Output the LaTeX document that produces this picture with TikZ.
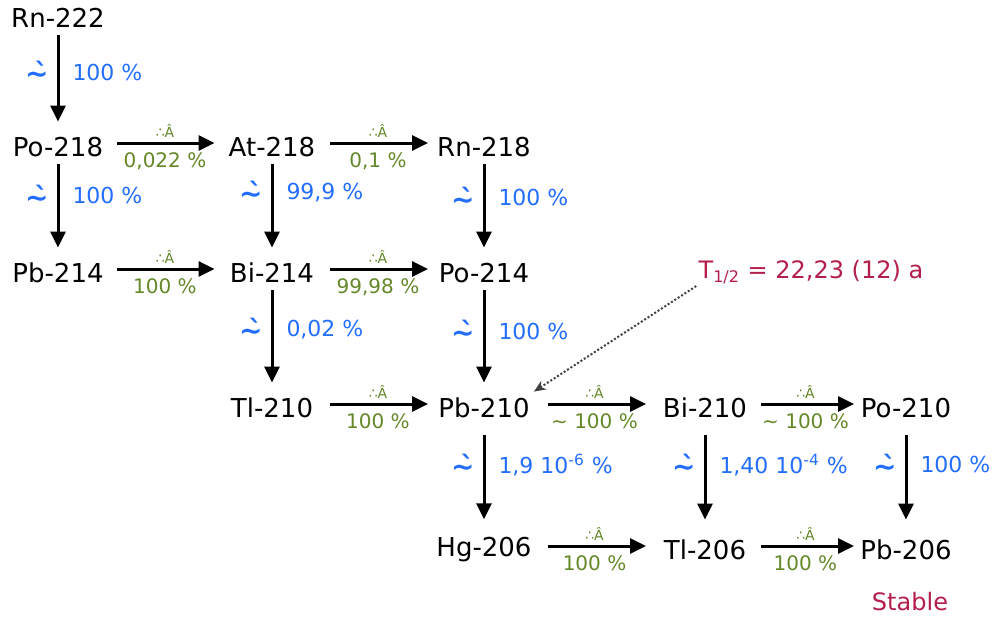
\documentclass[tikz,border=0pt]{standalone}
\usepackage{fontspec}
\setmainfont{DejaVu Sans}
\usetikzlibrary{arrows.meta}
\definecolor{nucblue}{RGB}{35,110,255}
\definecolor{nucgreen}{RGB}{100,135,40}
\definecolor{nuccrim}{RGB}{180,30,75}
\newcommand{\alsym}{\char"7E\char"300}
\newcommand{\besym}{∴Â}
\begin{document}
\begin{tikzpicture}[x=0.5pt,y=-0.5pt,
  nuc/.style={font=\fontsize{13}{15}\selectfont, inner sep=0pt, minimum width=47.5pt, minimum height=12pt},
  varr/.style={-{Triangle[length=8pt,width=7.5pt]}, line width=1.5pt, shorten <=2.5pt, shorten >=6.5pt},
  varrb/.style={varr, shorten <=7.5pt, shorten >=9pt},
  harr/.style={-{Triangle[length=8pt,width=7.5pt]}, line width=1.5pt, shorten <=5pt, shorten >=4pt},
  asym/.style={text=nucblue, font=\fontsize{14}{16}\selectfont\bfseries, inner sep=0pt, left=4pt},
  apct/.style={text=nucblue, font=\fontsize{11}{13}\selectfont, inner sep=0pt, right=6.5pt},
  bsym/.style={text=nucgreen, font=\fontsize{7}{8}\selectfont, inner sep=0pt, above=2pt},
  bpct/.style={text=nucgreen, font=\fontsize{10}{12}\selectfont, inner sep=0pt, below=4pt},
  clab/.style={text=nuccrim, font=\fontsize{12}{14}\selectfont, inner sep=1pt},
  dotarr/.style={-{Stealth[length=6pt,width=5pt]}, line width=1pt, densely dotted, black!75}
]
\useasboundingbox (0,0) rectangle (992,621);
% nuclides
\node[nuc] (rn222) at (58,18)  {Rn-222};
\node[nuc] (po218) at (58,147) {Po-218};
\node[nuc] (at218) at (272,147) {At-218};
\node[nuc] (rn218) at (484,147) {Rn-218};
\node[nuc] (pb214) at (58,273) {Pb-214};
\node[nuc] (bi214) at (272,273) {Bi-214};
\node[nuc] (po214) at (484,273) {Po-214};
\node[nuc] (tl210) at (272,408) {Tl-210};
\node[nuc] (pb210) at (484,408) {Pb-210};
\node[nuc] (bi210) at (705,408) {Bi-210};
\node[nuc] (po210) at (906,408) {Po-210};
\node[nuc] (hg206) at (484,550) {Hg-206};
\node[nuc] (tl206) at (705,550) {Tl-206};
\node[nuc] (pb206) at (906,550) {Pb-206};
\node[clab] (stable) at (910,602) {Stable};
\node[clab] (thalf) at (811,272) {T\textsubscript{1/2} = 22,23 (12) a};
% alpha decays
\draw[varr] (rn222) -- node[pos=0.4,asym]{\alsym} node[pos=0.4,apct]{100 \%} (po218);
\draw[varr] (po218) -- node[pos=0.36,asym]{\alsym} node[pos=0.36,apct]{100 \%} (pb214);
\draw[varr] (at218) -- node[pos=0.33,asym]{\alsym} node[pos=0.33,apct]{99,9 \%} (bi214);
\draw[varr] (rn218) -- node[pos=0.38,asym]{\alsym} node[pos=0.38,apct]{100 \%} (po214);
\draw[varr] (bi214) -- node[pos=0.4,asym]{\alsym} node[pos=0.4,apct]{0,02 \%} (tl210);
\draw[varr] (po214) -- node[pos=0.42,asym]{\alsym} node[pos=0.42,apct]{100 \%} (pb210);
\draw[varrb] (pb210) -- node[pos=0.38,asym]{\alsym} node[pos=0.38,apct]{1,9 10\textsuperscript{-6} \%} (hg206);
\draw[varrb] (bi210) -- node[pos=0.38,asym]{\alsym} node[pos=0.38,apct]{1,40 10\textsuperscript{-4} \%} (tl206);
\draw[varrb] (po210) -- node[pos=0.38,asym]{\alsym} node[pos=0.38,apct]{100 \%} (pb206);
% beta decays
\draw[harr, shorten <=5.75pt, shorten >=4.75pt] ([yshift=2pt]po218.east) -- node[bsym]{\besym} node[bpct]{0,022 \%} ([yshift=2pt]at218.west);
\draw[harr] ([yshift=2pt]at218.east) -- node[bsym]{\besym} node[bpct]{0,1 \%} ([yshift=2pt]rn218.west);
\draw[harr, shorten <=5.75pt, shorten >=4.75pt] ([yshift=2pt]pb214.east) -- node[bsym]{\besym} node[bpct]{100 \%} ([yshift=2pt]bi214.west);
\draw[harr] ([yshift=2pt]bi214.east) -- node[bsym]{\besym} node[bpct]{99,98 \%} ([yshift=2pt]po214.west);
\draw[harr] ([yshift=2pt]tl210.east) -- node[bsym]{\besym} node[bpct]{100 \%} ([yshift=2pt]pb210.west);
\draw[harr, shorten <=8pt, shorten >=5.5pt] ([yshift=2pt]pb210.east) -- node[bsym]{\besym} node[bpct]{\textasciitilde{} 100 \%} ([yshift=2pt]bi210.west);
\draw[harr, shorten <=4pt, shorten >=2pt] ([yshift=2pt]bi210.east) -- node[bsym]{\besym} node[bpct]{\textasciitilde{} 100 \%} ([yshift=2pt]po210.west);
\draw[harr, shorten <=8pt, shorten >=5.5pt] ([yshift=2pt]hg206.east) -- node[bsym]{\besym} node[bpct]{100 \%} ([yshift=2pt]tl206.west);
\draw[harr, shorten <=4pt, shorten >=2pt] ([yshift=2pt]tl206.east) -- node[bsym]{\besym} node[bpct]{100 \%} ([yshift=2pt]pb206.west);
% half-life pointer
\draw[dotarr] (thalf.south west) -- ([xshift=1pt,yshift=2pt]pb210.north east);
\end{tikzpicture}
\end{document}
